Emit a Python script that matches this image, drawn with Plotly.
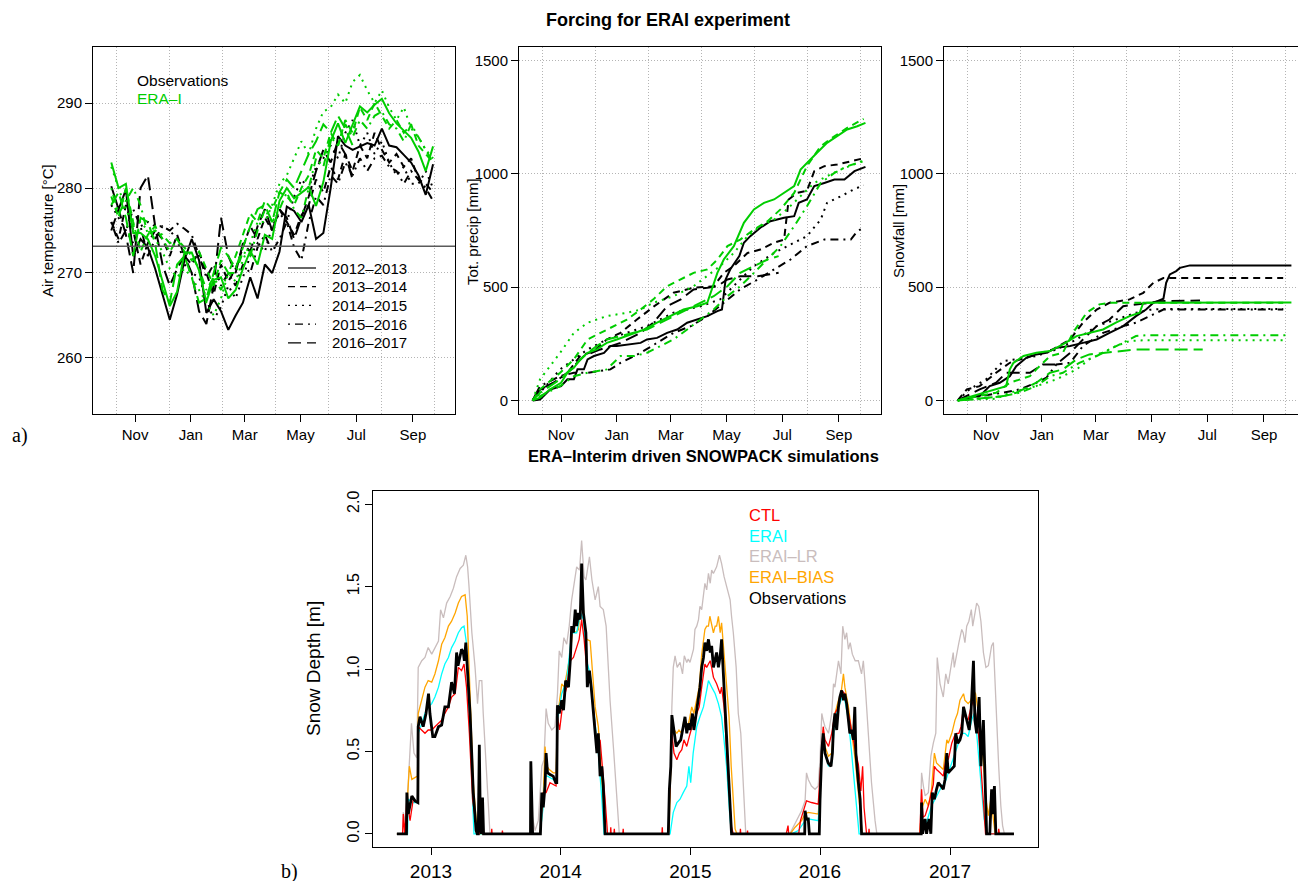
import pandas as pd
import plotly.graph_objects as go

W, H = 1298, 881
FONT = "Liberation Sans, Arial, Helvetica, sans-serif"
SERIF = "Liberation Serif, Times New Roman, serif"
GRID = "#B4B4B4"

# ---------------- categories / styles ----------------
SEASONS = ["2012–2013", "2013–2014", "2014–2015", "2015–2016", "2016–2017"]
SEASON_DASH = ["solid", "7px,5px", "2px,5px", "2px,5px,8px,5px", "13px,6px"]
OBS_COLOR = "black"
ERA_COLOR = "#00CD00"
SEASON_START = "2012-10-01"
MONTH_TICKS = ["2012-11-01", "2013-01-01", "2013-03-01", "2013-05-01", "2013-07-01", "2013-09-01"]
MONTH_LABELS = ["Nov", "Jan", "Mar", "May", "Jul", "Sep"]
YEAR_TICKS = ["2013-01-01", "2014-01-01", "2015-01-01", "2016-01-01", "2017-01-01"]
YEAR_LABELS = ["2013", "2014", "2015", "2016", "2017"]

# ---------------- panel a1: air temperature [K], days since 1 Oct ----------------
TEMP_DAYS = [5, 13, 21, 29, 37, 45, 53, 61, 69, 77, 85, 93, 101, 109, 117, 125, 133, 141, 149, 157,
             165, 173, 181, 189, 197, 205, 213, 221, 229, 237, 245, 253, 261, 269, 277, 285, 293,
             301, 309, 317, 325, 333, 341, 349, 357]
T_OBS_1213 = [280.2, 277.5, 279.8, 272.0, 274.0, 273.0, 270.5, 267.5, 264.5, 267.5, 271.5, 274.0, 271.5,
              265.3, 266.9, 265.5, 263.3, 265.0, 266.5, 269.5, 267.0, 271.0, 270.0, 272.5, 277.8, 277.3,
              276.0, 278.0, 274.0, 274.7, 280.0, 286.1, 285.0, 284.5, 284.9, 285.3, 285.0, 287.0, 285.0,
              284.8, 283.9, 283.0, 281.5, 279.2, 282.8]
T_ERA_1213 = [283.0, 280.0, 280.5, 274.7, 274.7, 274.0, 272.0, 269.0, 266.1, 267.8, 272.4, 272.4, 270.3,
              266.6, 269.2, 269.5, 267.0, 268.0, 270.5, 272.6, 271.0, 274.5, 274.0, 278.5, 280.0, 278.8,
              279.5, 280.1, 277.9, 280.7, 285.5, 287.6, 285.3, 287.5, 289.6, 288.9, 289.8, 290.5, 288.8,
              287.6, 286.8, 285.9, 284.3, 282.0, 284.9]
T_OBS_1314 = [276, 274, 278, 275, 271, 273.5, 275, 274, 272, 274.5, 272, 271, 272.5, 270, 267.5, 271, 269,
              270.5, 273, 275.5, 274, 276.5, 275, 277.5, 276, 274.5, 276.8, 278, 281, 279.5, 282.5, 281,
              284, 282, 285, 283.5, 286.5, 284.5, 283, 284, 282.5, 283.5, 281, 280.5, 279.5]
T_ERA_1314 = [279, 276.5, 280, 276, 272.5, 274.5, 275.5, 274, 272.5, 274, 272.5, 271.5, 272.5, 270.5,
              268.5, 271.5, 270, 272, 274.5, 277, 276, 278.5, 277.5, 279.5, 279, 278, 280, 281.5, 284.5,
              283.5, 286.5, 285, 288, 286.5, 289.5, 288, 290, 288.5, 287, 288, 286.5, 287.5, 285, 284, 283]
T_OBS_1415 = [278, 276.5, 275, 273.5, 275.5, 276, 275.5, 275.5, 275, 274, 271, 270, 269.5, 267, 264.5,
              266, 268.5, 267, 269.5, 272, 273.5, 272.5, 275.5, 277, 276, 279, 281, 280, 282.5, 283.5,
              285, 283.5, 286.5, 288, 285, 286.5, 284, 285.5, 283, 281.5, 282.5, 280.5, 280.5, 282, 280]
T_ERA_1415 = [282.5, 280, 277.5, 275.5, 276, 275, 274, 272.5, 270.5, 269.5, 270.5, 269.5, 268, 266.5,
              265, 267, 270, 269, 271.5, 273.5, 276, 276, 278, 280.5, 281.5, 283.5, 285.5, 284, 287, 289,
              289.5, 291, 290, 292.5, 293.3, 291.5, 290, 291.5, 289.5, 288, 289.5, 287, 286, 284.5, 283.5]
T_OBS_1516 = [276, 273.5, 275, 277.5, 275.5, 272, 274, 275.5, 275, 275.8, 275.2, 274.5, 272, 269.5, 271,
              268.5, 270, 268.5, 271, 270, 273, 274.5, 272.5, 274, 276, 273, 271.5, 276, 279, 278, 281.5,
              280.5, 283, 281.5, 283.5, 282, 283.5, 283.8, 282.5, 282, 280.5, 282, 281, 280, 278.5]
T_ERA_1516 = [280, 277, 278.5, 280, 278, 274.5, 275, 274.5, 273.5, 274, 273, 272, 270.5, 268, 269.5, 268,
              270, 270, 272.5, 272, 275, 277.5, 276, 277.5, 279.5, 277.5, 276.5, 280, 283.5, 282.5, 286,
              285, 287.5, 286, 288, 287, 288.5, 289, 287.5, 287, 285.5, 287.5, 286, 284.5, 283]
T_OBS_1617 = [275, 277.5, 274.5, 270, 280, 281.5, 275.5, 271, 268.5, 270.5, 272, 270, 265.5, 264, 268.5,
              276.5, 272, 270, 273.5, 272.5, 275.5, 277.5, 275, 277.5, 276.5, 274, 276.5, 279, 282, 284.5,
              283, 285.5, 284, 281]
T_ERA_1617 = [278, 279.5, 276.5, 272, 276.5, 276, 273.5, 268, 266.5, 271, 272, 269.5, 266.5, 267, 270,
              273, 272, 270.5, 273, 275.5, 277.5, 278, 276, 279.5, 281, 280, 282, 284, 285.5, 287.5,
              286.5, 288.5, 287, 285]
FREEZING_K = 273.15

# ---------------- panel a2: cumulative total precipitation [mm]  (day, mm) ----------------
P_OBS_1213 = [(0, 0), (8, 4), (19, 48), (31, 63), (38, 93), (45, 93), (49, 137), (56, 137), (60, 181), (67, 196),
              (78, 210), (85, 240), (92, 240), (103, 247), (118, 254), (125, 269), (136, 276), (147, 298),
              (158, 313), (169, 343), (180, 357), (191, 372), (202, 394), (207, 401), (211, 534), (216, 578),
              (226, 637), (231, 696), (238, 725), (249, 762), (260, 791), (275, 806), (286, 813), (291, 872),
              (300, 887), (308, 946), (319, 960), (330, 975), (341, 975), (352, 1012), (364, 1031)]
P_OBS_1314 = [(0, 0), (5, 41), (23, 78), (38, 122), (52, 196), (67, 218), (81, 269), (96, 298), (114, 357),
              (133, 416), (154, 475), (176, 497), (198, 504), (209, 563), (220, 593), (235, 651), (249, 666),
              (264, 696), (275, 710), (280, 887), (289, 916), (300, 925), (308, 1012), (319, 1034),
              (333, 1041), (348, 1056), (364, 1071)]
P_OBS_1415 = [(0, 0), (8, 34), (30, 137), (45, 181), (60, 225), (81, 269), (103, 298), (125, 328), (154, 387),
              (184, 416), (205, 446), (220, 504), (242, 593), (264, 651), (286, 696), (300, 725), (315, 798),
              (322, 872), (337, 901), (351, 931), (362, 950)]
P_OBS_1516 = [(0, 0), (8, 63), (30, 107), (45, 122), (60, 122), (74, 129), (85, 137), (96, 166), (103, 181),
              (118, 210), (136, 254), (154, 298), (173, 328), (191, 372), (209, 431), (227, 490), (246, 534),
              (264, 578), (282, 622), (300, 681), (319, 710), (348, 710), (355, 747), (362, 762)]
P_OBS_1617 = [(0, 0), (8, 49), (23, 78), (38, 122), (56, 196), (74, 225), (96, 254), (118, 298), (132, 343),
              (147, 416), (162, 446), (176, 490), (191, 497), (202, 504), (213, 534), (227, 548), (246, 548),
              (269, 563)]
P_ERA_1213 = [(0, 0), (8, 12), (19, 49), (31, 78), (38, 122), (45, 144), (52, 181), (60, 210), (70, 225),
              (81, 254), (92, 269), (107, 291), (122, 313), (136, 343), (151, 372), (165, 401), (180, 416),
              (191, 431), (202, 563), (209, 622), (220, 681), (231, 784), (242, 843), (253, 872), (264, 887),
              (275, 916), (286, 946), (293, 1019), (300, 1049), (311, 1093), (322, 1137), (333, 1166),
              (344, 1196), (355, 1210), (364, 1225)]
P_ERA_1314 = [(0, 0), (8, 49), (30, 122), (45, 181), (60, 269), (74, 298), (89, 328), (103, 357), (118, 401),
              (132, 446), (147, 504), (162, 534), (176, 563), (191, 578), (202, 622), (213, 681), (227, 710),
              (242, 754), (257, 791), (271, 843), (286, 916), (300, 1034), (315, 1122), (330, 1166),
              (344, 1203), (362, 1243)]
P_ERA_1415 = [(0, 0), (8, 93), (30, 210), (45, 298), (60, 343), (81, 372), (103, 387), (118, 401), (132, 431),
              (154, 460), (176, 504), (191, 548), (205, 593), (220, 651), (235, 725), (249, 769), (264, 798),
              (278, 843), (293, 901), (308, 960), (322, 990), (337, 1019), (351, 1041), (362, 1060)]
P_ERA_1516 = [(0, 0), (8, 19), (30, 63), (45, 107), (60, 122), (81, 137), (96, 196), (111, 196), (125, 210),
              (140, 240), (154, 269), (169, 313), (184, 357), (198, 401), (213, 460), (227, 504), (242, 563),
              (257, 622), (271, 681), (286, 769), (300, 857), (315, 960), (330, 1004), (344, 1034), (362, 1056)]
P_ERA_1617 = [(0, 0), (8, 34), (30, 93), (45, 151), (60, 210), (70, 240), (81, 269), (96, 284), (111, 298),
              (125, 313), (140, 343), (154, 372), (169, 401), (184, 431), (198, 460), (213, 504), (227, 563),
              (242, 593), (257, 622), (269, 637)]

# ---------------- panel a3: cumulative snowfall [mm]  (day, mm) ----------------
S_OBS_1213 = [(0, 0), (10, 12), (24, 19), (35, 63), (46, 78), (57, 107), (64, 151), (75, 188), (86, 203), (97, 210),
              (108, 232), (123, 240), (137, 254), (152, 269), (166, 298), (181, 328), (195, 372), (206, 401),
              (214, 431), (225, 449), (228, 519), (232, 556), (239, 571), (243, 585), (254, 596), (365, 596)]
S_OBS_1314 = [(0, 0), (10, 49), (24, 63), (42, 122), (57, 166), (68, 181), (86, 203), (104, 225), (123, 269),
              (137, 343), (152, 401), (166, 431), (188, 446), (203, 475), (214, 519), (225, 540), (356, 540)]
S_OBS_1415 = [(0, 0), (13, 49), (31, 93), (50, 174), (64, 181), (86, 196), (108, 225), (130, 269), (152, 328),
              (173, 357), (195, 387), (210, 400), (225, 404), (356, 404)]
S_OBS_1516 = [(0, 0), (13, 12), (50, 34), (68, 49), (86, 78), (97, 100), (108, 159), (123, 166), (137, 240),
              (159, 298), (181, 328), (195, 343), (210, 372), (225, 401), (356, 401)]
S_OBS_1617 = [(0, 0), (10, 19), (24, 49), (42, 78), (53, 122), (79, 122), (93, 159), (108, 159), (123, 210),
              (137, 269), (152, 328), (166, 357), (181, 416), (210, 431), (221, 438), (265, 441)]
S_ERA_1213 = [(0, 0), (10, 12), (24, 27), (42, 49), (53, 63), (57, 137), (61, 166), (72, 196), (86, 210),
              (101, 218), (115, 247), (130, 284), (144, 298), (159, 313), (173, 343), (188, 372), (199, 387),
              (203, 431), (365, 432)]
S_ERA_1314 = [(0, 0), (13, 12), (42, 34), (57, 78), (79, 107), (86, 137), (101, 196), (115, 210), (126, 298),
              (141, 387), (155, 424), (166, 431), (356, 431)]
S_ERA_1415 = [(0, 0), (13, 4), (42, 7), (57, 34), (72, 49), (86, 63), (108, 93), (130, 137), (144, 181),
              (159, 210), (173, 240), (188, 262), (206, 266), (359, 266)]
S_ERA_1516 = [(0, 0), (13, 4), (50, 19), (68, 34), (86, 63), (101, 107), (115, 122), (133, 166), (152, 196),
              (166, 225), (181, 254), (195, 284), (206, 288), (359, 288)]
S_ERA_1617 = [(0, 0), (13, 4), (50, 19), (64, 34), (86, 78), (101, 122), (115, 137), (130, 181), (144, 203),
              (159, 210), (173, 218), (195, 225), (268, 225)]

# ---------------- panel b: snow depth [m]  (day relative to 1 Jan of spring year, m) ----------------
SD_YEARS = [2013, 2014, 2015, 2016, 2017]
SD_OBS_2013 = [(-96, 0), (-69, 0), (-68, 0.25), (-64, 0.12), (-54, 0.23), (-45, 0.20), (-37, 0.19), (-36, 0.65),
               (-31, 0.71), (-22, 0.65), (-14, 0.73), (-7, 0.85), (-3, 0.73), (5, 0.59), (11, 0.59), (21, 0.65),
               (30, 0.66), (39, 0.77), (49, 0.77), (58, 0.92), (66, 0.85), (72, 1.10), (76, 1.02), (82, 1.09),
               (86, 1.12), (91, 1.10), (94, 1.05), (98, 1.16), (103, 0.95), (110, 0.73), (119, 0.25), (127, 0.02),
               (130, 0), (133, 0), (136, 0.54), (139, 0.05), (142, 0), (145, 0.22), (148, 0)]
SD_OBS_2014 = [(-85, 0), (-84, 0.44), (-80, 0.02), (-79, 0), (-57, 0), (-53, 0.25), (-49, 0.16), (-44, 0.29),
               (-41, 0.49), (-37, 0.37), (-30, 0.36), (-21, 0.35), (-14, 0.31), (-11, 0.31), (-9, 0.78), (-4, 0.73),
               (3, 0.81), (8, 0.75), (14, 0.93), (22, 0.89), (27, 1.05), (31, 1.26), (36, 1.22), (41, 1.36),
               (45, 1.26), (50, 1.34), (55, 1.30), (59, 1.64), (64, 1.34), (71, 1.22), (75, 0.89), (81, 0.99),
               (86, 0.89), (92, 0.73), (102, 0.49), (106, 0.61), (111, 0.35), (116, 0.41), (120, 0.29), (125, 0)]
SD_OBS_2015 = [(-62, 0), (-59, 0.27), (-55, 0.41), (-52, 0.72), (-46, 0.62), (-40, 0.53), (-34, 0.55), (-27, 0.57),
               (-20, 0.65), (-15, 0.71), (-10, 0.61), (-6, 0.67), (-1, 0.63), (6, 0.73), (10, 0.63), (16, 0.73),
               (23, 0.85), (27, 0.89), (32, 1.01), (37, 1.07), (41, 1.16), (46, 1.11), (51, 1.18), (56, 1.10),
               (60, 1.14), (65, 1.01), (70, 1.06), (74, 1.10), (79, 1.01), (84, 1.08), (88, 1.18), (93, 0.97),
               (98, 0.77), (104, 0.49), (112, 0.17), (116, 0)]
SD_OBS_2016 = [(-43, 0), (-42, 0.14), (-38, 0.09), (-33, 0.09), (-30, 0), (-2, 0), (0, 0.20), (5, 0.50), (9, 0.61),
               (14, 0.49), (23, 0.43), (31, 0.41), (35, 0.49), (38, 0.65), (42, 0.73), (47, 0.63), (52, 0.77),
               (56, 0.83), (61, 0.87), (66, 0.81), (70, 0.85), (75, 0.79), (80, 0.69), (84, 0.61), (89, 0.63),
               (94, 0.57), (98, 0.77), (101, 0.49), (108, 0.31), (113, 0.21), (117, 0)]
SD_OBS_2017 = [(-85, 0), (-81, 0), (-80, 0.19), (-77, 0), (-70, 0.09), (-66, 0), (-59, 0.09), (-54, 0), (-50, 0.25),
               (-44, 0.21), (-38, 0.27), (-33, 0.31), (-25, 0.29), (-19, 0.27), (-14, 0.33), (-9, 0.49), (-5, 0.37),
               (5, 0.39), (12, 0.41), (16, 0.61), (22, 0.55), (28, 0.57), (33, 0.61), (38, 0.77), (42, 0.73),
               (47, 0.69), (54, 0.63), (59, 0.73), (66, 1.05), (70, 0.69), (75, 0.61), (82, 0.83), (87, 0.41),
               (94, 0.69), (99, 0.25), (103, 0), (112, 0), (117, 0.27), (120, 0.12), (125, 0.29), (129, 0), (180, 0)]

SD_LR_2013 = [(-96, 0), (-80, 0), (-78, 0.13), (-70, 0.05), (-64, 0.31), (-55, 0.67), (-48, 0.49), (-40, 0.46),
              (-36, 1.01), (-26, 1.05), (-17, 1.07), (-8, 1.13), (2, 1.09), (11, 1.13), (21, 1.17), (27, 1.36),
              (35, 1.31), (44, 1.40), (54, 1.44), (63, 1.49), (72, 1.56), (82, 1.61), (91, 1.63), (98, 1.69),
              (103, 1.62), (107, 1.50), (115, 1.22), (124, 1.01), (131, 0.79), (136, 0.93), (143, 0.93),
              (147, 0.73), (157, 0.31), (166, 0)]
SD_LR_2014 = [(-85, 0), (-82, 0.13), (-72, 0.02), (-63, 0.08), (-53, 0.41), (-47, 0.45), (-41, 0.76), (-35, 0.67),
              (-25, 0.63), (-16, 0.65), (-9, 0.85), (-4, 1.11), (3, 1.07), (9, 1.19), (17, 1.15), (24, 1.26),
              (31, 1.42), (38, 1.52), (45, 1.62), (53, 1.60), (59, 1.78), (66, 1.56), (71, 1.54), (81, 1.68),
              (88, 1.54), (97, 1.42), (106, 1.50), (111, 1.38), (120, 1.36), (128, 1.26), (132, 1.09),
              (139, 0.81), (149, 0.51), (158, 0.21), (165, 0)]
SD_LR_2015 = [(-62, 0), (-59, 0.21), (-55, 0.41), (-52, 0.77), (-48, 1.01), (-43, 1.08), (-37, 1.01), (-29, 1.04),
              (-22, 0.97), (-17, 1.08), (-10, 1.04), (-6, 1.06), (-1, 1.04), (4, 1.08), (9, 1.12), (13, 1.24),
              (18, 1.26), (23, 1.30), (27, 1.38), (32, 1.36), (37, 1.46), (41, 1.52), (46, 1.48), (51, 1.58),
              (56, 1.52), (60, 1.60), (65, 1.58), (74, 1.62), (82, 1.69), (88, 1.64), (95, 1.56), (102, 1.50),
              (112, 1.42), (116, 1.32), (121, 1.22), (129, 1.01), (135, 0.73), (142, 0.61), (149, 0.31), (156, 0)]
SD_LR_2016 = [(-85, 0), (-80, 0.02), (-70, 0.06), (-61, 0.10), (-52, 0.14), (-42, 0.20), (-38, 0.37), (-33, 0.33),
              (-24, 0.29), (-14, 0.27), (-5, 0.29), (0, 0.45), (5, 0.73), (9, 0.69), (14, 0.65), (24, 0.61),
              (33, 0.73), (38, 0.91), (42, 0.89), (52, 1.05), (59, 0.97), (64, 1.26), (70, 1.18), (75, 1.22),
              (80, 1.12), (85, 1.16), (91, 1.09), (99, 1.05), (108, 1.05), (117, 0.97), (122, 1.05), (127, 0.91),
              (136, 0.61), (145, 0.31), (155, 0.08), (160, 0)]
SD_LR_2017 = [(-85, 0), (-80, 0.37), (-75, 0.29), (-70, 0.23), (-61, 0.25), (-54, 0.47), (-47, 0.55), (-40, 0.61),
              (-36, 1.07), (-28, 0.91), (-19, 0.83), (-12, 0.97), (-5, 0.91), (3, 1.01), (9, 1.10), (12, 1.01),
              (19, 1.10), (25, 1.16), (33, 1.24), (37, 1.22), (42, 1.16), (47, 1.26), (53, 1.29), (60, 1.36),
              (64, 1.26), (70, 1.34), (75, 1.40), (81, 1.38), (87, 1.29), (94, 1.10), (101, 1.01), (108, 1.02),
              (117, 1.14), (122, 1.16), (127, 0.89), (131, 0.71), (137, 0.41), (143, 0.17), (148, 0.05),
              (153, 0), (180, 0)]

SD_BIAS_2013 = [(-96, 0), (-70, 0), (-68, 0.15), (-61, 0.41), (-54, 0.33), (-38, 0.35), (-36, 0.73), (-26, 0.81),
                (-17, 0.89), (-8, 0.93), (2, 0.92), (11, 0.97), (21, 1.05), (30, 1.15), (39, 1.19), (49, 1.26),
                (58, 1.29), (68, 1.34), (77, 1.40), (86, 1.44), (96, 1.45), (102, 1.32), (107, 1.05), (112, 0.71),
                (119, 0.31), (127, 0.09), (133, 0.01), (138, 0)]
SD_BIAS_2014 = [(-58, 0), (-50, 0.17), (-44, 0.53), (-39, 0.41), (-32, 0.39), (-21, 0.37), (-13, 0.37), (-9, 0.73),
                (-4, 0.79), (3, 0.91), (10, 0.89), (17, 0.97), (27, 1.09), (34, 1.24), (43, 1.22), (50, 1.24),
                (55, 1.36), (59, 1.46), (66, 1.32), (73, 1.18), (83, 1.17), (88, 1.01), (97, 0.77), (106, 0.65),
                (109, 0.55), (113, 0.41), (120, 0.17), (125, 0)]
SD_BIAS_2015 = [(-62, 0), (-59, 0.06), (-55, 0.41), (-52, 0.65), (-46, 0.63), (-38, 0.61), (-32, 0.63), (-24, 0.61),
                (-18, 0.69), (-10, 0.63), (-3, 0.69), (4, 0.77), (10, 0.73), (18, 0.81), (25, 0.89), (32, 1.09),
                (37, 1.18), (41, 1.24), (46, 1.26), (51, 1.26), (55, 1.32), (65, 1.22), (70, 1.26), (74, 1.26),
                (79, 1.32), (84, 1.22), (88, 1.28), (95, 1.09), (102, 0.93), (109, 0.71), (115, 0.41), (121, 0.17),
                (126, 0.03), (131, 0)]
SD_BIAS_2016 = [(-84, 0), (-70, 0.04), (-52, 0.08), (-42, 0.12), (-33, 0.13), (-5, 0.12), (0, 0.25), (5, 0.49),
                (9, 0.63), (14, 0.53), (24, 0.47), (33, 0.49), (38, 0.65), (42, 0.73), (52, 0.81), (59, 0.85),
                (66, 0.97), (70, 0.89), (80, 0.77), (89, 0.61), (99, 0.45), (108, 0.25), (113, 0.11), (119, 0)]
SD_BIAS_2017 = [(-85, 0), (-80, 0.15), (-70, 0.21), (-61, 0.17), (-52, 0.27), (-44, 0.49), (-38, 0.43), (-28, 0.41),
                (-19, 0.39), (-9, 0.57), (-5, 0.55), (5, 0.61), (14, 0.69), (21, 0.73), (28, 0.81), (38, 0.85),
                (42, 0.81), (51, 0.79), (59, 0.81), (66, 0.87), (72, 0.85), (80, 0.73), (87, 0.61), (94, 0.43),
                (101, 0.21), (108, 0.11), (115, 0.21), (122, 0.09), (127, 0), (180, 0)]

SD_ERAI_2013 = [(-96, 0), (-66, 0), (-64, 0.21), (-50, 0.19), (-38, 0.19), (-36, 0.61), (-26, 0.67), (-17, 0.73),
                (-8, 0.77), (2, 0.79), (11, 0.83), (21, 0.89), (30, 0.97), (39, 1.03), (49, 1.07), (58, 1.13),
                (68, 1.17), (77, 1.22), (86, 1.25), (93, 1.26), (99, 1.17), (105, 0.81), (115, 0.31), (121, 0)]
SD_ERAI_2014 = [(-58, 0), (-50, 0.15), (-44, 0.35), (-37, 0.35), (-21, 0.33), (-13, 0.31), (-9, 0.69), (3, 0.85),
                (17, 0.93), (31, 1.22), (45, 1.22), (56, 1.34), (64, 1.30), (73, 1.05), (83, 0.97), (92, 0.77),
                (106, 0.49), (116, 0.21), (122, 0)]
SD_ERAI_2015 = [(-57, 0), (-52, 0.07), (-48, 0.13), (-38, 0.19), (-29, 0.21), (-20, 0.25), (-10, 0.29), (-4, 0.41),
                (1, 0.31), (8, 0.49), (18, 0.65), (27, 0.71), (37, 0.77), (46, 0.87), (51, 0.93), (60, 0.89),
                (70, 0.85), (79, 0.79), (88, 0.71), (93, 0.61), (102, 0.41), (111, 0.11), (116, 0)]
SD_ERAI_2016 = [(-80, 0), (-61, 0.02), (-42, 0.08), (-33, 0.09), (-5, 0.08), (0, 0.23), (5, 0.45), (9, 0.61),
                (14, 0.49), (24, 0.41), (33, 0.43), (38, 0.61), (42, 0.71), (52, 0.77), (61, 0.83), (66, 0.85),
                (70, 0.81), (80, 0.69), (89, 0.49), (99, 0.25), (106, 0.09), (110, 0)]
SD_ERAI_2017 = [(-85, 0), (-80, 0.02), (-70, 0.04), (-61, 0.11), (-52, 0.17), (-42, 0.21), (-33, 0.25), (-23, 0.29),
                (-14, 0.31), (-5, 0.37), (5, 0.43), (14, 0.49), (23, 0.55), (33, 0.61), (42, 0.61), (51, 0.59),
                (61, 0.69), (68, 0.73), (75, 0.61), (82, 0.45), (89, 0.25), (96, 0.09), (103, 0), (180, 0)]

SD_CTL_2013 = [(-96, 0), (-80, 0), (-78, 0.12), (-74, 0), (-68, 0.21), (-59, 0.08), (-50, 0.21), (-38, 0.19),
               (-36, 0.65), (-26, 0.63), (-17, 0.61), (-8, 0.63), (2, 0.63), (11, 0.65), (21, 0.67), (30, 0.69),
               (39, 0.73), (49, 0.77), (58, 0.83), (68, 0.85), (77, 1.01), (86, 0.99), (93, 1.03), (100, 0.89),
               (108, 0.61), (117, 0.21), (124, 0.10), (130, 0), (136, 0), (138, 0.21), (145, 0), (170, 0),
               (171, 0.03), (172, 0), (200, 0), (201, 0.02), (202, 0)]
SD_CTL_2014 = [(-58, 0), (-53, 0.13), (-49, 0.25), (-41, 0.25), (-30, 0.31), (-13, 0.29), (-9, 0.71), (-3, 0.63),
               (7, 0.81), (17, 0.89), (27, 1.05), (36, 1.07), (45, 1.13), (52, 1.18), (59, 1.30), (66, 1.18),
               (73, 1.01), (83, 0.93), (92, 0.77), (102, 0.53), (111, 0.57), (118, 0.41), (125, 0.21), (132, 0),
               (140, 0), (141, 0.04), (142, 0), (150, 0), (151, 0.03), (152, 0), (175, 0), (176, 0.03), (177, 0)]
SD_CTL_2015 = [(-80, 0), (-79, 0.04), (-78, 0), (-62, 0), (-59, 0.21), (-55, 0.51), (-52, 0.61), (-46, 0.49),
               (-38, 0.45), (-31, 0.49), (-24, 0.51), (-18, 0.57), (-10, 0.53), (-3, 0.59), (4, 0.65), (10, 0.69),
               (18, 0.73), (25, 0.77), (32, 0.89), (37, 0.97), (41, 1.03), (46, 1.01), (56, 1.05), (60, 1.01),
               (65, 0.95), (74, 0.91), (84, 0.85), (88, 0.89), (95, 0.77), (102, 0.51), (110, 0.26), (116, 0.04),
               (121, 0), (140, 0), (141, 0.03), (142, 0), (160, 0), (161, 0.02), (162, 0)]
SD_CTL_2016 = [(-95, 0), (-90, 0.05), (-88, 0), (-60, 0), (-55, 0.08), (-48, 0.13), (-42, 0.18), (-38, 0.20),
               (-24, 0.19), (-5, 0.18), (0, 0.35), (5, 0.49), (9, 0.65), (14, 0.57), (24, 0.53), (33, 0.61),
               (38, 0.69), (42, 0.73), (52, 0.77), (61, 0.87), (70, 0.85), (80, 0.73), (89, 0.61), (99, 0.51),
               (108, 0.42), (115, 0.26), (120, 0.41), (124, 0.16), (131, 0), (137, 0), (138, 0.03), (139, 0)]
SD_CTL_2017 = [(-85, 0), (-80, 0.27), (-76, 0.10), (-70, 0.11), (-61, 0.17), (-52, 0.25), (-47, 0.30), (-44, 0.41),
               (-38, 0.39), (-28, 0.37), (-19, 0.35), (-9, 0.49), (-5, 0.45), (5, 0.55), (12, 0.59), (19, 0.61),
               (25, 0.61), (31, 0.65), (38, 0.77), (42, 0.71), (51, 0.69), (59, 0.77), (66, 0.81), (72, 0.73),
               (80, 0.61), (87, 0.41), (94, 0.20), (100, 0), (136, 0), (137, 0.03), (139, 0), (180, 0)]

SD_NAMES = ["CTL", "ERAI", "ERAI–LR", "ERAI–BIAS", "Observations"]
SD_COLORS = ["#FF0000", "#00FFFF", "#C9BDBD", "#FFA500", "#000000"]

# ---------------- helpers ----------------
def dx(px):
    return px / W


def dy(py):
    return 1 - py / H


def season_dates(days):
    return pd.Timestamp(SEASON_START) + pd.to_timedelta(list(days), unit="D")


def split(pairs):
    return [p[0] for p in pairs], [p[1] for p in pairs]


def sd_series(seasons):
    xs, ys = [], []
    for year, pairs in zip(SD_YEARS, seasons):
        d, v = split(pairs)
        xs.extend(pd.Timestamp(f"{year}-01-01") + pd.to_timedelta(d, unit="D"))
        ys.extend(v)
    return xs, ys


fig = go.Figure()

TEMP = [(T_OBS_1213, T_ERA_1213), (T_OBS_1314, T_ERA_1314), (T_OBS_1415, T_ERA_1415),
        (T_OBS_1516, T_ERA_1516), (T_OBS_1617, T_ERA_1617)]
PREC = [(P_OBS_1213, P_ERA_1213), (P_OBS_1314, P_ERA_1314), (P_OBS_1415, P_ERA_1415),
        (P_OBS_1516, P_ERA_1516), (P_OBS_1617, P_ERA_1617)]
SNOW = [(S_OBS_1213, S_ERA_1213), (S_OBS_1314, S_ERA_1314), (S_OBS_1415, S_ERA_1415),
        (S_OBS_1516, S_ERA_1516), (S_OBS_1617, S_ERA_1617)]

for src, color in ((0, OBS_COLOR), (1, ERA_COLOR)):
    for i, season in enumerate(SEASONS):
        vals = TEMP[i][src]
        fig.add_trace(go.Scatter(x=season_dates(TEMP_DAYS[:len(vals)]), y=vals, mode="lines",
                                 line=dict(color=color, width=2, dash=SEASON_DASH[i]),
                                 xaxis="x", yaxis="y", showlegend=False, hoverinfo="skip"))
        d, v = split(PREC[i][src])
        fig.add_trace(go.Scatter(x=season_dates(d), y=v, mode="lines",
                                 line=dict(color=color, width=2, dash=SEASON_DASH[i]),
                                 xaxis="x2", yaxis="y2", showlegend=False, hoverinfo="skip"))
        d, v = split(SNOW[i][src])
        fig.add_trace(go.Scatter(x=season_dates(d), y=v, mode="lines",
                                 line=dict(color=color, width=2, dash=SEASON_DASH[i]),
                                 xaxis="x3", yaxis="y3", showlegend=False, hoverinfo="skip"))

SD_SERIES = {
    "ERAI–LR": [SD_LR_2013, SD_LR_2014, SD_LR_2015, SD_LR_2016, SD_LR_2017],
    "ERAI–BIAS": [SD_BIAS_2013, SD_BIAS_2014, SD_BIAS_2015, SD_BIAS_2016, SD_BIAS_2017],
    "ERAI": [SD_ERAI_2013, SD_ERAI_2014, SD_ERAI_2015, SD_ERAI_2016, SD_ERAI_2017],
    "CTL": [SD_CTL_2013, SD_CTL_2014, SD_CTL_2015, SD_CTL_2016, SD_CTL_2017],
    "Observations": [SD_OBS_2013, SD_OBS_2014, SD_OBS_2015, SD_OBS_2016, SD_OBS_2017],
}
for name, seasons in SD_SERIES.items():
    xs, ys = sd_series(seasons)
    fig.add_trace(go.Scatter(x=xs, y=ys, mode="lines",
                             line=dict(color=SD_COLORS[SD_NAMES.index(name)],
                                       width=2.8 if name == "Observations" else 1.3),
                             xaxis="x4", yaxis="y4", showlegend=False, hoverinfo="skip"))

# invisible traces so the overlay tick axes render
for ov, ya in (("x5", "y"), ("x6", "y2"), ("x7", "y3")):
    fig.add_trace(go.Scatter(x=[MONTH_TICKS[0]], y=[None], mode="lines", xaxis=ov, yaxis=ya,
                             showlegend=False, hoverinfo="skip"))

TOP_Y = [dy(414), dy(47)]
RANGE_TOP = ["2012-09-16", "2013-10-17"]
RANGE_TOP3 = ["2012-09-16", "2013-10-08 05:00"]
tick_font = dict(family=FONT, size=15, color="black")


def grid_xaxis(domain, rng, anchor):
    return dict(domain=domain, anchor=anchor, type="date", range=rng, tickmode="linear",
                tick0="2012-10-12", dtick=5e9, showticklabels=False, ticks="",
                showgrid=True, gridcolor=GRID, griddash="1px,2px", gridwidth=1,
                showline=True, linecolor="black", linewidth=1, mirror=True, zeroline=False)


def month_xaxis(over, rng, anchor):
    return dict(overlaying=over, anchor=anchor, type="date", range=rng, tickmode="array",
                tickvals=MONTH_TICKS, ticktext=MONTH_LABELS, ticks="outside", ticklen=7,
                tickcolor="black", showgrid=False, showline=False, zeroline=False, tickfont=tick_font)


def top_yaxis(domain, anchor, rng, tickvals):
    return dict(domain=domain, anchor=anchor, range=rng, tickmode="array", tickvals=tickvals,
                ticks="outside", ticklen=7, tickcolor="black", showgrid=True, gridcolor=GRID,
                griddash="1px,2px", showline=True, linecolor="black", linewidth=1, mirror=True,
                zeroline=False, tickfont=tick_font)


layout = dict(
    width=W, height=H, margin=dict(l=0, r=0, t=0, b=0),
    paper_bgcolor="white", plot_bgcolor="white", showlegend=False,
    font=dict(family=FONT, color="black"),
    xaxis=grid_xaxis([dx(93), dx(455)], RANGE_TOP, "y"),
    xaxis2=grid_xaxis([dx(519), dx(881)], RANGE_TOP, "y2"),
    xaxis3=grid_xaxis([dx(944), 1.0], RANGE_TOP3, "y3"),
    xaxis5=month_xaxis("x", RANGE_TOP, "y"),
    xaxis6=month_xaxis("x2", RANGE_TOP, "y2"),
    xaxis7=month_xaxis("x3", RANGE_TOP3, "y3"),
    yaxis=top_yaxis(TOP_Y, "x", [253.4, 296.6], [260, 270, 280, 290]),
    yaxis2=top_yaxis(TOP_Y, "x2", [-60, 1560], [0, 500, 1000, 1500]),
    yaxis3=top_yaxis(TOP_Y, "x3", [-60, 1560], [0, 500, 1000, 1500]),
    xaxis4=dict(domain=[dx(373), dx(1038)], anchor="y4", type="date",
                range=["2012-07-21 17:00", "2017-09-05 16:00"], tickmode="array",
                tickvals=YEAR_TICKS, ticktext=YEAR_LABELS, ticks="outside", ticklen=7, tickcolor="black",
                showgrid=False, showline=True, linecolor="black", linewidth=1, mirror=True, zeroline=False,
                tickfont=dict(family=FONT, size=19, color="black")),
    yaxis4=dict(domain=[dy(847), dy(491)], anchor="x4", range=[-0.08, 2.08], tickmode="array",
                tickvals=[0, 0.5, 1.0, 1.5, 2.0], ticktext=["0.0", "0.5", "1.0", "1.5", "2.0"],
                tickangle=-90, ticks="outside", ticklen=7, tickcolor="black", showgrid=False,
                showline=True, linecolor="black", linewidth=1, mirror=True, zeroline=False,
                tickfont=dict(family=FONT, size=16, color="black")),
)
fig.update_layout(**layout)

# freezing line
fig.add_shape(type="line", xref="x domain", yref="y", x0=0, x1=1, y0=FREEZING_K, y1=FREEZING_K,
              line=dict(color="#5A5A5A", width=1.5))

ann = []


def text(x, y, s, size, color="black", family=FONT, xanchor="center", angle=0, bold=False):
    ann.append(dict(x=x, y=y, xref="paper", yref="paper", text=f"<b>{s}</b>" if bold else s,
                    showarrow=False, xanchor=xanchor, yanchor="middle", textangle=angle,
                    font=dict(family=family, size=size, color=color)))


text(dx(668), dy(20), "Forcing for ERAI experiment", 18, bold=True)
text(dx(703), dy(456), "ERA–Interim driven SNOWPACK simulations", 16.5, bold=True)
text(dx(20), dy(435), "a)", 20, family=SERIF)
text(dx(289), dy(871), "b)", 20, family=SERIF)
text(dx(48), dy(231), "Air temperature [°C]", 15, angle=-90)
text(dx(473), dy(231), "Tot. precip [mm]", 15, angle=-90)
text(dx(899), dy(231), "Snowfall [mm]", 15, angle=-90)
text(dx(313), dy(669), "Snow Depth [m]", 19, angle=-90)
text(dx(135), dy(80), "Observations", 15.5, xanchor="left")
text(dx(135), dy(99), "ERA–I", 15.5, color=ERA_COLOR, xanchor="left")

for i, season in enumerate(SEASONS):
    yrow = dy(268 + i * 18.7)
    fig.add_shape(type="line", xref="paper", yref="paper", x0=dx(288), x1=dx(316), y0=yrow, y1=yrow,
                  line=dict(color="black", width=1.2, dash=SEASON_DASH[i]))
    text(dx(330), yrow, season, 15, xanchor="left")

for i, (name, color) in enumerate(zip(SD_NAMES, SD_COLORS)):
    text(dx(747), dy(515 + i * 20.7), name, 16.5, color=color, xanchor="left")

fig.update_layout(annotations=ann)
fig.write_html("out.html", config={"displayModeBar": False})

# remove the browser's default page margin so the figure fills the window exactly
with open("out.html", "r", encoding="utf-8") as fh:
    html = fh.read()
html = html.replace("<head>", "<head><style>html,body{margin:0;padding:0;overflow:hidden;}</style>", 1)
with open("out.html", "w", encoding="utf-8") as fh:
    fh.write(html)
